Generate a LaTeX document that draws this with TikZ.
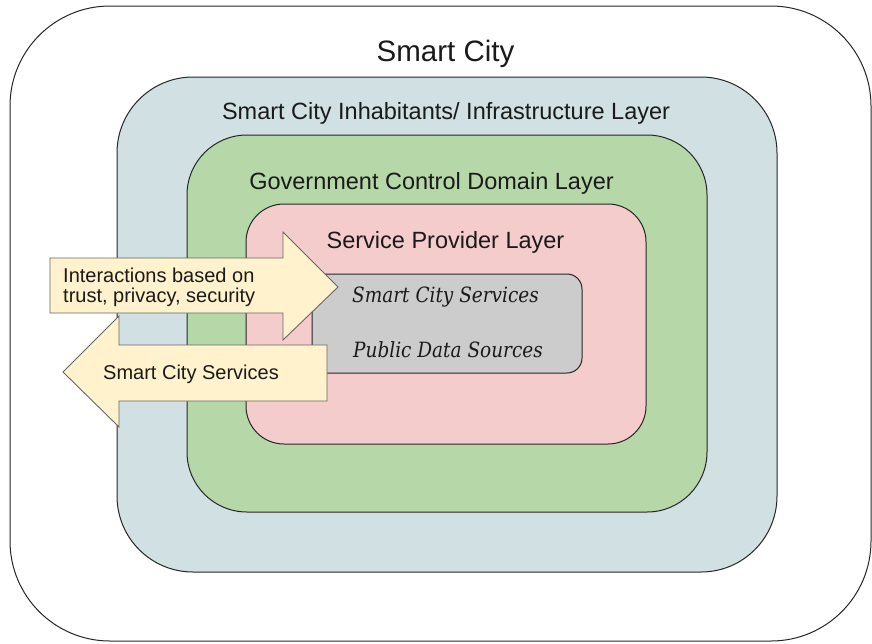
\documentclass[tikz,border=0pt]{standalone}
\usepackage{fontspec}
\setsansfont{Liberation Sans}
\newfontfamily\servfont[FakeStretch=0.88]{DejaVu Serif}
\definecolor{cblue}{HTML}{D0E0E3}
\definecolor{cgreen}{HTML}{B6D7A8}
\definecolor{cpink}{HTML}{F4CCCC}
\definecolor{cgrey}{HTML}{CCCCCC}
\definecolor{cyel}{HTML}{FFF2CC}
\definecolor{ctext}{HTML}{1A1A1A}
\begin{document}
\begin{tikzpicture}[x=1pt,y=-1pt,
  layerbox/.style={draw=black!85, line width=1pt, inner sep=0pt},
  lbl/.style={font=\sffamily\fontsize{23.5}{28}\selectfont, text=ctext, anchor=base, inner sep=0pt},
  ttl/.style={font=\sffamily\fontsize{29.5}{34}\selectfont, text=ctext, anchor=base, inner sep=0pt},
  arrtxt/.style={font=\sffamily\fontsize{20}{20.5}\selectfont, text=ctext, anchor=base west, inner sep=0pt, align=left},
  servtxt/.style={font=\servfont\itshape\fontsize{21}{25}\selectfont, text=ctext, anchor=base west, inner sep=0pt},
  arrowshape/.style={draw=black!60, fill=cyel, line width=0.9pt, line join=miter}
]
\useasboundingbox (0,0) rectangle (872,643);
% layers
\node[layerbox, fill=white, rounded corners=100pt, minimum width=861pt, minimum height=635pt] (city) at (440.5,323.5) {};
\node[layerbox, fill=cblue, rounded corners=76pt, minimum width=660pt, minimum height=495pt] (inhab) at (447,324.5) {};
\node[layerbox, fill=cgreen, rounded corners=60pt, minimum width=520pt, minimum height=377pt] (gov) at (447,323.5) {};
\node[layerbox, fill=cpink, rounded corners=38pt, minimum width=400pt, minimum height=240pt] (prov) at (446,324) {};
\node[layerbox, fill=cgrey, rounded corners=15pt, minimum width=270pt, minimum height=99pt] (serv) at (447,323.5) {};
% labels
\node[ttl] (tcity) at (445.5,61) {Smart City};
\node[lbl] (tinhab) at (446,119) {Smart City Inhabitants/ Infrastructure Layer};
\node[lbl] (tgov) at (431.5,189) {Government Control Domain Layer};
\node[lbl] (tprov) at (445.5,248) {Service Provider Layer};
\node[servtxt] (s1) at (352,302) {Smart City Services};
\node[servtxt] (s2) at (353,357) {Public Data Sources};
% arrows
\draw[arrowshape] (50,258) -- (283,258) -- (283,232) -- (338,287) -- (283,340) -- (283,313) -- (50,313) -- cycle;
\node[arrtxt] (a1) at (63,282) {Interactions based on};
\node[arrtxt] (a1b) at (63,302) {trust, privacy, security};
\draw[arrowshape] (327,345) -- (119,345) -- (119,316) -- (63,372) -- (119,427) -- (119,401) -- (327,401) -- cycle;
\node[arrtxt] (a2) at (103,379) {Smart City Services};
\end{tikzpicture}
\end{document}
